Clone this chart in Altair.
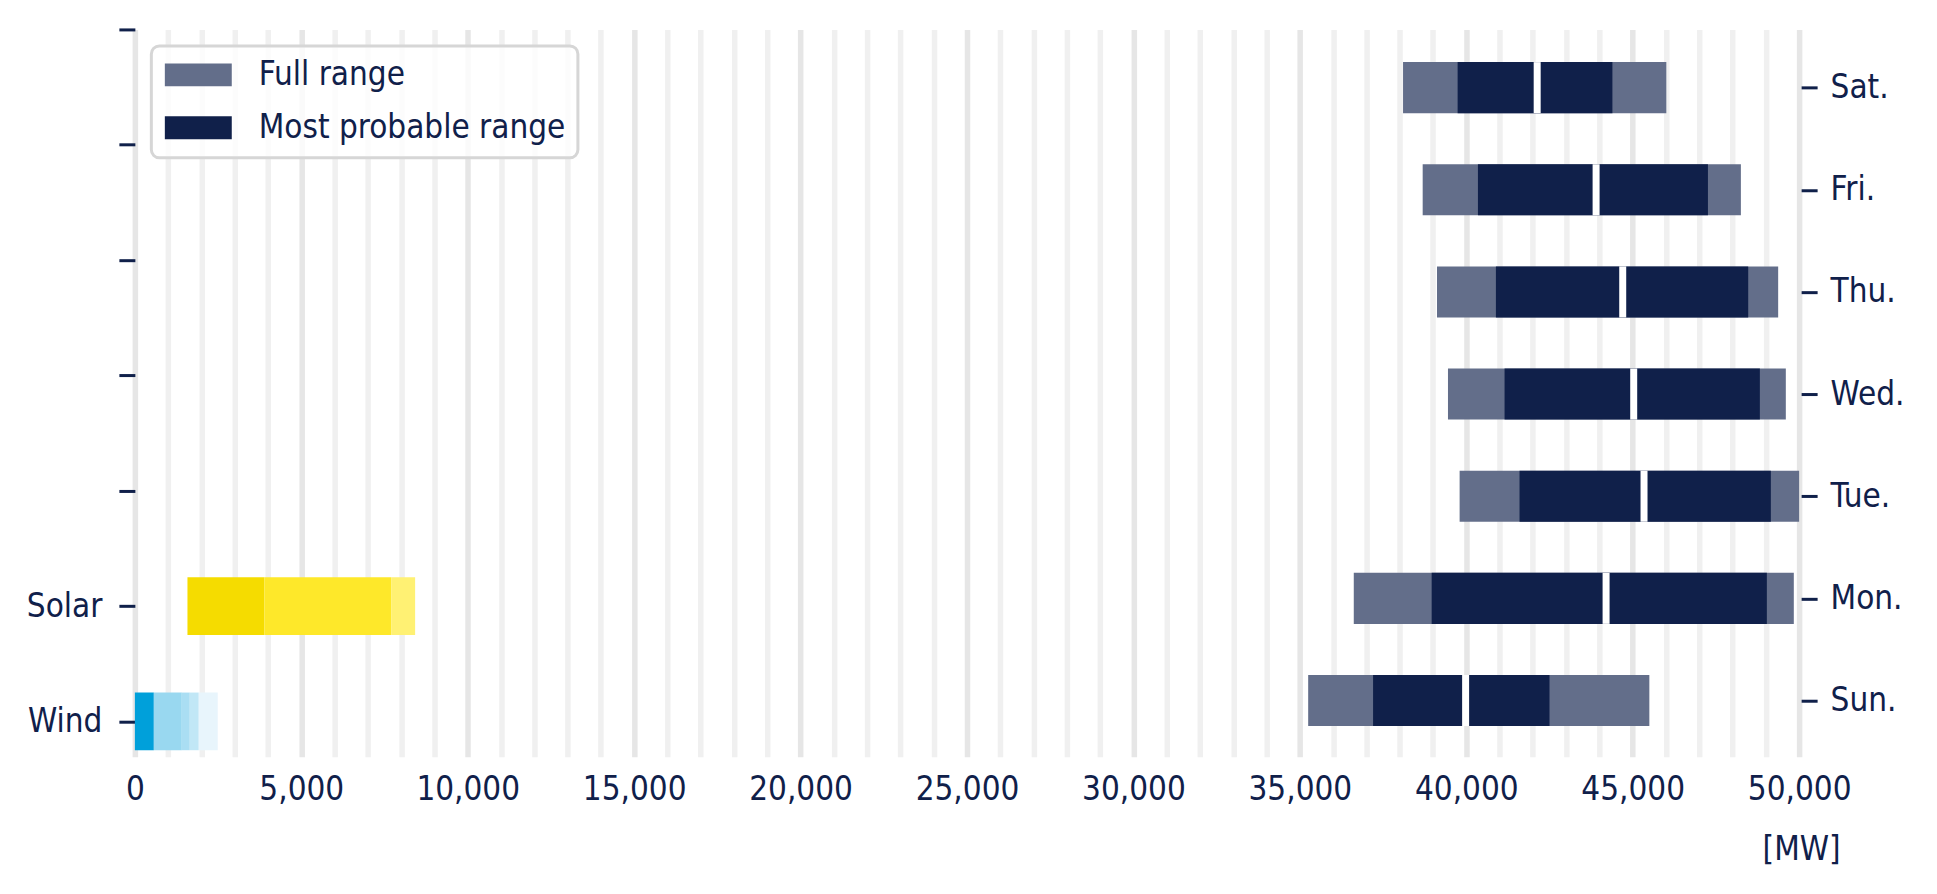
import json
import altair as alt
import pandas as pd

NAVY = "#10204a"
FONT = "DejaVu Sans Condensed, Noto Sans, sans-serif"

# left axis: generation sources, row 0 is the bottom row
source_names = ["Wind", "Solar", "", "", "", "", ""]
wind_edges = [0, 570, 1410, 1650, 1920, 2490]
wind_shades = ["#00a0da", "#99d8f0", "#aadef3", "#c1e7f6", "#e8f5fc"]
solar_edges = [1580, 3890, 7700, 8420]
solar_shades = ["#f5dc00", "#fee82a", "#fff173"]

# right axis: demand per day, Sun. at the bottom
days = ["Sun.", "Mon.", "Tue.", "Wed.", "Thu.", "Fri.", "Sat."]
full_lo = [35250, 36620, 39800, 39450, 39120, 38690, 38100]
likely_lo = [37200, 38960, 41600, 41150, 40890, 40350, 39740]
median = [39980, 44200, 45340, 45030, 44700, 43900, 42130]
likely_hi = [42500, 49030, 49150, 48820, 48470, 47260, 44390]
full_hi = [45500, 49840, 50000, 49600, 49370, 48250, 46010]

range_names = ["Full range", "Most probable range"]
range_colors = ["#636e8a", NAVY]
mw_ticks = list(range(0, 50001, 1000))

# tables
seg_rows = []
for pos, edges, shades in [(0, wind_edges, wind_shades), (1, solar_edges, solar_shades)]:
    for a, b, c in zip(edges[:-1], edges[1:], shades):
        seg_rows.append({"pos": pos, "start": a, "end": b, "shade": c})
segments = pd.DataFrame(seg_rows)

day_pos = list(range(len(days)))
ranges = pd.concat([
    pd.DataFrame({"pos": day_pos, "lo": full_lo, "hi": full_hi, "kind": range_names[0]}),
    pd.DataFrame({"pos": day_pos, "lo": likely_lo, "hi": likely_hi, "kind": range_names[1]}),
], ignore_index=True)
medians = pd.DataFrame({"pos": day_pos, "median": median})

x_axis = alt.Axis(
    values=mw_ticks,
    labelExpr="datum.value % 5000 === 0 ? format(datum.value, ',') : ''",
    labelFlush=False, labelOverlap=False, labelBaseline="top", labelPadding=17,
    ticks=False, domain=False,
    grid=True, gridWidth=5.5,
    gridColor={"condition": {"test": "datum.value % 5000 === 0", "value": "#e6e6e6"}, "value": "#f0f0f0"},
    title="[MW]", titleX=1668, titleY=103, titleAlign="center", titleBaseline="alphabetic",
)
x_scale = alt.Scale(domain=[0, 50000], nice=False, zero=False)

# Left side: wind / solar
left_axis = alt.Axis(
    orient="left", values=list(range(7)),
    labelExpr=f"{json.dumps(source_names)}[datum.value]",
    grid=False, domain=False, tickSize=16, tickWidth=3, tickColor=NAVY,
    labelPadding=17, title=None,
)
energy = alt.Chart(segments).transform_calculate(
    y0="datum.pos - 0.25", y1="datum.pos + 0.25"
).mark_bar().encode(
    x=alt.X("start:Q", scale=x_scale, axis=x_axis),
    x2="end:Q",
    y=alt.Y("y0:Q", scale=alt.Scale(domain=[-0.306, 6], nice=False, zero=False), axis=left_axis),
    y2="y1:Q",
    fill=alt.Fill("shade:N", scale=None),
)

# Right side: daily ranges
right_y = alt.Y(
    "y0:Q", scale=alt.Scale(domain=[-0.55, 6.57], nice=False, zero=False),
    axis=alt.Axis(
        orient="right", values=day_pos,
        labelExpr=f"{json.dumps(days)}[datum.value]",
        grid=False, domain=False, tickSize=16, tickWidth=3, tickColor=NAVY,
        labelPadding=13, offset=2, title=None,
    ),
)
bars = alt.Chart(ranges).transform_calculate(
    y0="datum.pos - 0.25", y1="datum.pos + 0.25"
).mark_bar().encode(
    x=alt.X("lo:Q", scale=x_scale, axis=x_axis),
    x2="hi:Q",
    y=right_y,
    y2="y1:Q",
    color=alt.Color(
        "kind:N",
        scale=alt.Scale(domain=range_names, range=range_colors),
        legend=alt.Legend(
            title=None, orient="none", legendX=16.5, legendY=16.5,
            symbolType="M-2.913,-1H2.913V1H-2.913Z", symbolSize=529,
            symbolOffset=18, symbolStrokeWidth=0, labelOffset=44, labelLimit=0,
            padding=12.5, rowPadding=19,
            fillColor="rgba(255,255,255,0.8)", strokeColor="#d6d6d6", cornerRadius=8,
        ),
    ),
)
gaps = alt.Chart(medians).transform_calculate(
    y0="datum.pos - 0.25", y1="datum.pos + 0.25"
).mark_rule(color="white", strokeWidth=7).encode(
    x=alt.X("median:Q", scale=x_scale, axis=x_axis),
    y=right_y,
    y2="y1:Q",
)
week = alt.layer(bars, gaps)

chart = alt.layer(energy, week).resolve_scale(
    y="independent"
).properties(
    width=1666,
    height=728,
    autosize=alt.AutoSizeParams(type="none"),
    padding={"left": 127, "top": 21, "right": 130, "bottom": 110},
).configure_view(
    stroke=None
).configure_axis(
    labelFont=FONT, labelFontSize=33, labelColor=NAVY,
    titleFont=FONT, titleFontSize=33, titleColor=NAVY, titleFontWeight="normal",
).configure_legend(
    labelFont=FONT, labelFontSize=33, labelColor=NAVY, strokeWidth=3,
)

chart.save("out.html", embed_options={"renderer": "svg", "actions": False})
